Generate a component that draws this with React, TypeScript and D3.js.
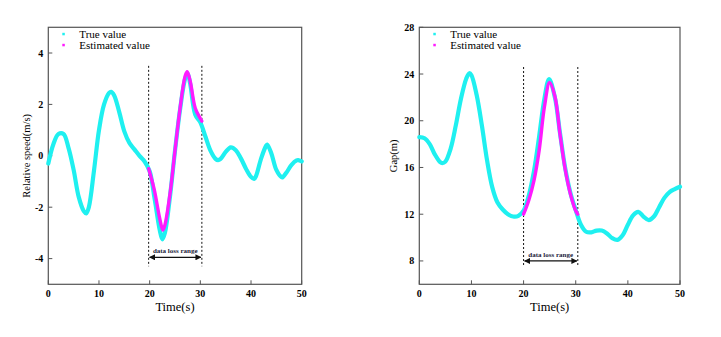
import React from 'react';
import * as d3 from 'd3';

// left panel: relative speed
const speedTrueT = [0, 1, 2, 3, 4, 5, 6, 7, 7.5, 8, 9, 10, 11, 12, 12.4, 13, 14, 15, 16, 17, 18, 19, 20, 21, 22, 22.5, 23, 24, 25, 26, 27, 27.5, 28, 29, 30, 31, 32, 33, 33.5, 34, 35, 36, 37, 38, 39, 40, 40.6, 41, 42, 43, 43.2, 44, 45, 46, 46.2, 47, 48, 49, 49.3, 50];
const speedTrueV = [-0.3, 0.45, 0.85, 0.85, 0.3, -0.55, -1.6, -2.15, -2.24, -2.0, -0.6, 1.0, 2.0, 2.45, 2.49, 2.35, 1.7, 0.95, 0.5, 0.25, 0.0, -0.22, -0.6, -1.7, -2.9, -3.25, -3.0, -1.6, 0.2, 1.8, 3.0, 3.2, 2.8, 1.6, 1.3, 0.75, 0.2, -0.12, -0.17, -0.12, 0.15, 0.33, 0.22, -0.1, -0.5, -0.82, -0.9, -0.78, -0.1, 0.4, 0.44, 0.1, -0.55, -0.83, -0.84, -0.65, -0.35, -0.18, -0.17, -0.22];
const speedEstT = [19.8, 20.5, 21, 22, 22.6, 23, 24, 25, 26, 27, 27.4, 28, 29, 30, 30.3];
const speedEstV = [-0.5, -1.0, -1.4, -2.45, -2.89, -2.7, -1.5, 0.2, 1.85, 3.1, 3.27, 2.9, 1.85, 1.45, 1.35];
const speedTicks = [-4, -2, 0, 2, 4];
const speedLoss = [19.8, 30.3];

// right panel: gap
const gapTrueT = [0, 1, 2, 3, 4, 4.4, 5, 6, 7, 8, 9, 9.6, 10, 11, 12, 13, 14, 15, 16, 17, 18, 19, 20, 21, 22, 23, 24, 24.9, 26, 27, 28, 29, 30, 31, 32, 33, 34, 35, 36, 37, 38, 39, 40, 41, 42, 43, 44, 45, 46, 47, 48, 49, 50];
const gapTrueV = [18.6, 18.5, 18.0, 17.1, 16.45, 16.37, 16.5, 17.6, 19.6, 21.9, 23.6, 24.07, 23.9, 22.2, 19.6, 16.6, 14.3, 13.0, 12.4, 12.0, 11.8, 11.85, 12.3, 13.6, 15.7, 18.7, 21.9, 23.56, 22.0, 18.9, 15.9, 13.8, 12.35, 11.1, 10.5, 10.45, 10.6, 10.6, 10.35, 9.95, 9.8, 10.2, 11.1, 11.9, 12.2, 11.8, 11.5, 11.8, 12.6, 13.4, 13.9, 14.15, 14.35];
const gapEstT = [20, 21, 22, 23, 24, 25, 26, 27, 28, 29, 30, 30.4];
const gapEstV = [12.0, 13.2, 14.9, 17.5, 21.2, 23.27, 22.1, 18.8, 15.8, 13.7, 12.3, 12.0];
const gapTicks = [8, 12, 16, 20, 24, 28];
const gapLoss = [20, 30.4];

const timeTicks = [0, 10, 20, 30, 40, 50];

const CYAN = '#1ff0f0';
const MAGENTA = '#ff1aff';
const FONT = '"Liberation Serif", "Times New Roman", serif';

type PanelProps = {
  left: number; right: number; top: number; bottom: number;
  yDomain: [number, number]; yTicks: number[]; yTitle: string; yTitleX: number;
  trueT: number[]; trueV: number[]; estT: number[]; estV: number[];
  loss: number[]; lossTop: number; lossBottom: number; arrowY: number;
};

const Panel = (p: PanelProps) => {
  const x = d3.scaleLinear().domain([0, 50]).range([p.left, p.right]);
  const y = d3.scaleLinear().domain(p.yDomain).range([p.bottom, p.top]);
  const line = d3.line<number>()
    .x(d => x(d[0]))
    .y(d => y(d[1]))
    .curve(d3.curveCatmullRom);
  const truePts: any = p.trueT.map((t, i) => [t, p.trueV[i]]);
  const estPts: any = p.estT.map((t, i) => [t, p.estV[i]]);
  const ay = y(p.arrowY);
  const x0 = x(p.loss[0]);
  const x1 = x(p.loss[1]);
  return (
    <g>
      <defs>
        <marker id={`ah-${p.left}`} viewBox="0 0 10 10" refX="9" refY="5" markerWidth="5" markerHeight="5" orient="auto-start-reverse">
          <path d="M0,0 L10,5 L0,10 z" fill="#111" />
        </marker>
      </defs>
      {/* frame */}
      <rect x={p.left} y={p.top} width={p.right - p.left} height={p.bottom - p.top} fill="none" stroke="#555" strokeWidth={1.2} />
      {timeTicks.map(t => (
        <g key={t}>
          <line x1={x(t)} x2={x(t)} y1={p.bottom} y2={p.bottom - 4} stroke="#555" />
          <text x={x(t)} y={p.bottom + 13} textAnchor="middle" fontFamily={FONT} fontWeight="bold" fontSize={10}>{t}</text>
        </g>
      ))}
      {p.yTicks.map(t => (
        <g key={t}>
          <line x1={p.left} x2={p.left + 4} y1={y(t)} y2={y(t)} stroke="#555" />
          <text x={p.left - 5} y={y(t)} dy="0.35em" textAnchor="end" fontFamily={FONT} fontWeight="bold" fontSize={10}>{t}</text>
        </g>
      ))}
      <text x={(p.left + p.right) / 2} y={p.bottom + 27} textAnchor="middle" fontFamily={FONT} fontSize={12.5}>Time(s)</text>
      <text transform={`translate(${p.yTitleX},${(p.top + p.bottom) / 2}) rotate(-90)`} textAnchor="middle" fontFamily={FONT} fontSize={10.5}>{p.yTitle}</text>

      {/* data loss range */}
      {p.loss.map(t => (
        <line key={t} x1={x(t)} x2={x(t)} y1={y(p.lossTop)} y2={y(p.lossBottom)} stroke="#111" strokeWidth={1} strokeDasharray="2,2" />
      ))}
      <line x1={x0 + 1} x2={x1 - 1} y1={ay} y2={ay} stroke="#111" strokeWidth={1.2}
        markerStart={`url(#ah-${p.left})`} markerEnd={`url(#ah-${p.left})`} />
      <text x={(x0 + x1) / 2} y={ay - 4} textAnchor="middle" fontFamily={FONT} fontWeight="bold" fontSize={7} fill="#1a1a3a">data loss range</text>

      {/* series */}
      <path d={line(truePts) || ''} fill="none" stroke={CYAN} strokeWidth={4.2} strokeLinecap="round" />
      <path d={line(estPts) || ''} fill="none" stroke={MAGENTA} strokeWidth={3.4} strokeLinecap="round" />

      {/* legend */}
      <rect x={p.left + 14} y={p.top + 5.5} width={2.5} height={2.5} fill={CYAN} />
      <rect x={p.left + 14} y={p.top + 16.5} width={2.5} height={2.5} fill={MAGENTA} />
      <text x={p.left + 31} y={p.top + 10.5} fontFamily={FONT} fontSize={11}>True value</text>
      <text x={p.left + 31} y={p.top + 21.5} fontFamily={FONT} fontSize={11}>Estimated value</text>
    </g>
  );
};

const App = () => (
  <svg width={721} height={337} style={{ position: 'absolute', left: 0, top: 0, background: '#fff' }}>
    <Panel left={48.3} right={301.7} top={27.3} bottom={284.3}
      yDomain={[-5, 5]} yTicks={speedTicks} yTitle="Relative speed(m/s)" yTitleX={30}
      trueT={speedTrueT} trueV={speedTrueV} estT={speedEstT} estV={speedEstV}
      loss={speedLoss} lossTop={3.5} lossBottom={-4.3} arrowY={-3.95} />
    <Panel left={419.3} right={680} top={27.3} bottom={284.3}
      yDomain={[6, 28]} yTicks={gapTicks} yTitle="Gap(m)" yTitleX={397}
      trueT={gapTrueT} trueV={gapTrueV} estT={gapEstT} estV={gapEstV}
      loss={gapLoss} lossTop={24.6} lossBottom={7.6} arrowY={8.0} />
  </svg>
);

export default App;
